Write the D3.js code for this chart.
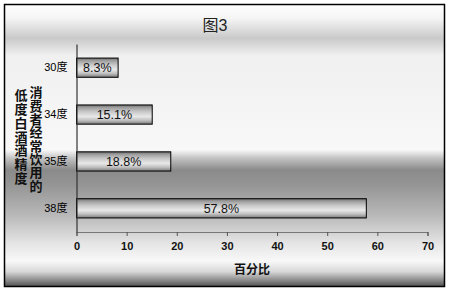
<!DOCTYPE html>
<html><head><meta charset="utf-8">
<script src="https://cdn.jsdelivr.net/npm/d3@7"></script>
<style>html,body{margin:0;padding:0;background:#fff}</style>
</head><body>
<script>
const categories = ["30度", "34度", "35度", "38度"];
const values = [8.3, 15.1, 18.8, 57.8];
const valueLabels = ["8.3%", "15.1%", "18.8%", "57.8%"];
const xTicks = [0, 10, 20, 30, 40, 50, 60, 70];
const title = "图3";
const xTitle = "百分比";
const yTitleRight = "消费者经常饮用的";
const yTitleLeft = "低度白酒酒精度";

const W = 449, H = 292;
const svg = d3.select("body").append("svg").attr("width", W).attr("height", H);
const defs = svg.append("defs");

const bg = defs.append("linearGradient").attr("id", "bg").attr("x1", 0).attr("y1", 0).attr("x2", 0).attr("y2", 1);
[[0, "#ffffff"], [0.05, "#f4f4f4"], [0.12, "#c9c9c9"], [0.18, "#f0f0f0"], [0.516, "#f8f8f8"],
 [0.544, "#c4c4c4"], [0.587, "#8a8a8a"], [0.64, "#959595"], [0.746, "#b8b8b8"], [0.85, "#e6e6e6"],
 [0.91, "#f8f8f8"], [0.947, "#d8d8d8"], [0.982, "#808080"], [1, "#505050"]]
  .forEach(([o, c]) => bg.append("stop").attr("offset", o).attr("stop-color", c));

const bar = defs.append("linearGradient").attr("id", "bar").attr("x1", 0).attr("y1", 0).attr("x2", 0).attr("y2", 1);
[[0, "#6a6a6a"], [0.12, "#9a9a9a"], [0.35, "#c8c8c8"], [0.6, "#e8e8e8"], [0.8, "#c0c0c0"], [1, "#7a7a7a"]]
  .forEach(([o, c]) => bar.append("stop").attr("offset", o).attr("stop-color", c));

svg.append("rect").attr("x", 4.5).attr("y", 4.5).attr("width", 440).attr("height", 282)
  .attr("fill", "url(#bg)").attr("stroke", "#000").attr("stroke-width", 1.5);

const font = "'Liberation Sans', Arial, 'Noto Sans CJK SC', sans-serif";

const x = d3.scaleLinear().domain([0, 70]).range([76.5, 427.5]);
const y = d3.scaleBand().domain(categories).range([44, 232]).paddingInner(0.59).paddingOuter(0.3);

// bars
svg.append("g").selectAll("rect").data(values).join("rect")
  .attr("x", x(0)).attr("y", (d, i) => y(categories[i]))
  .attr("width", d => x(d) - x(0)).attr("height", y.bandwidth())
  .attr("fill", "url(#bar)").attr("stroke", "#000").attr("stroke-width", 1);

svg.append("g").selectAll("text").data(values).join("text")
  .attr("x", d => (x(0) + x(d)) / 2).attr("y", (d, i) => y(categories[i]) + y.bandwidth() / 2 + 4.5)
  .attr("text-anchor", "middle").attr("font-family", font).attr("font-size", 12.5).attr("fill", "#111")
  .text((d, i) => valueLabels[i]);

// x axis
const xa = svg.append("g").attr("transform", "translate(0,232)")
  .call(d3.axisBottom(x).tickValues(xTicks).tickSize(4).tickPadding(6));
xa.select(".domain").attr("stroke", "#777").attr("stroke-width", 1.2);
xa.selectAll(".tick line").attr("stroke", "#555");
xa.selectAll(".tick text").attr("font-family", font).attr("font-size", 11).attr("font-weight", "bold").attr("fill", "#111");

// y axis
const ya = svg.append("g").attr("transform", "translate(76.5,0)")
  .call(d3.axisLeft(y).tickSize(0).tickPadding(9));
ya.select(".domain").attr("stroke", "#333").attr("stroke-width", 1.2);
ya.selectAll(".tick text").attr("font-family", font).attr("font-size", 11).attr("fill", "#000");

// title
svg.append("text").attr("x", 215).attr("y", 31).attr("text-anchor", "middle")
  .attr("font-family", font).attr("font-size", 16).attr("fill", "#222").text(title);

svg.append("text").attr("x", 252).attr("y", 274).attr("text-anchor", "middle")
  .attr("font-family", "'Noto Sans CJK SC', sans-serif").attr("font-size", 12).attr("font-weight", "bold")
  .attr("fill", "#111").text(xTitle);

// vertical y title (two columns)
const vt = svg.append("g").attr("font-family", "'Noto Sans CJK SC', sans-serif").attr("font-size", 13)
  .attr("font-weight", "bold").attr("fill", "#111");
vt.append("text").attr("x", 36).attr("y", 86).style("writing-mode", "vertical-rl")
  .attr("letter-spacing", 0.3).text(yTitleRight);
vt.append("text").attr("x", 21).attr("y", 89).style("writing-mode", "vertical-rl")
  .attr("letter-spacing", 0.7).text(yTitleLeft);
</script>
</body></html>
